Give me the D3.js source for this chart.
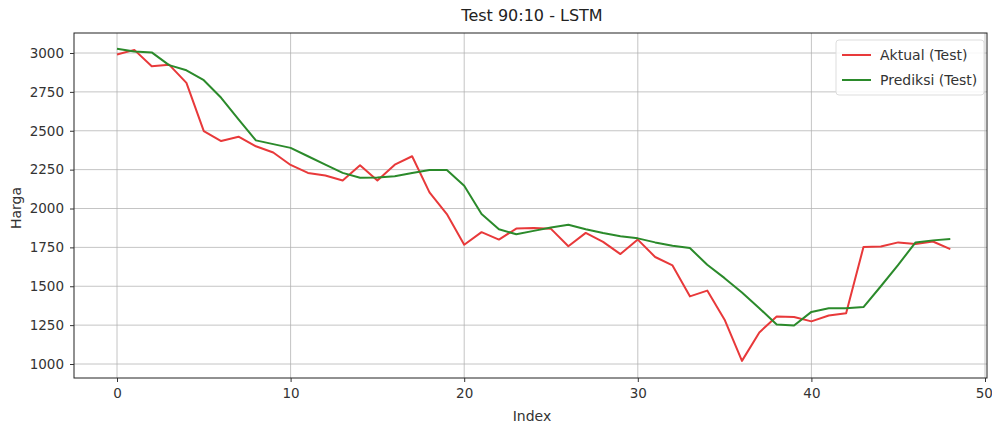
<!DOCTYPE html>
<html>
<head>
<meta charset="utf-8">
<script src="https://cdn.jsdelivr.net/npm/d3@7"></script>
<style>
  html, body { margin: 0; padding: 0; background: #fff; }
  svg { display: block; font-family: "DejaVu Sans", sans-serif; }
</style>
</head>
<body>
<svg id="chart" width="992" height="426"></svg>
<script>
const title = "Test 90:10 - LSTM";
const xLabel = "Index";
const yLabel = "Harga";
const seriesNames = ["Aktual (Test)", "Prediksi (Test)"];
const xTicks = [0, 10, 20, 30, 40, 50];
const yTicks = [1000, 1250, 1500, 1750, 2000, 2250, 2500, 2750, 3000];

const aktual = [2990, 3020, 2915, 2925, 2808, 2498, 2434, 2462, 2400, 2360,
  2280, 2229, 2212, 2180, 2278, 2180, 2282, 2336, 2104, 1964,
  1767, 1848, 1800, 1871, 1875, 1869, 1757, 1843, 1785, 1707,
  1800, 1688, 1634, 1435, 1472, 1285, 1020, 1203, 1306, 1302,
  1274, 1312, 1327, 1752, 1756, 1782, 1771, 1788, 1739];
const prediksi = [3028, 3010, 3004, 2922, 2889, 2825, 2712, 2573, 2438, 2414,
  2390, 2336, 2282, 2229, 2198, 2200, 2207, 2228, 2248, 2248,
  2146, 1964, 1867, 1834, 1856, 1878, 1895, 1867, 1842, 1822,
  1808, 1782, 1761, 1746, 1638, 1552, 1460, 1359, 1254, 1248,
  1335, 1359, 1359, 1366, 1500, 1638, 1782, 1795, 1804];

const colors = ["#e8393a", "#2b8a2b"];

const svg = d3.select("#chart");
const plot = { left: 74, right: 987, top: 33, bottom: 378 };

const x = d3.scaleLinear().domain([0, 50]).range([117, 985]);
const y = d3.scaleLinear().domain([1000, 3000]).range([364, 53]);

// grid
const g = svg.append("g");
g.selectAll(".gx").data(xTicks).enter().append("line")
  .attr("x1", d => x(d)).attr("x2", d => x(d))
  .attr("y1", plot.top).attr("y2", plot.bottom)
  .attr("stroke", "#b0b0b0").attr("stroke-opacity", 0.75).attr("stroke-width", 1);
g.selectAll(".gy").data(yTicks).enter().append("line")
  .attr("x1", plot.left).attr("x2", plot.right)
  .attr("y1", d => y(d)).attr("y2", d => y(d))
  .attr("stroke", "#b0b0b0").attr("stroke-opacity", 0.75).attr("stroke-width", 1);

// lines
const line = d3.line().x((d, i) => x(i)).y(d => y(d));
[aktual, prediksi].forEach((s, k) => {
  svg.append("path").datum(s)
    .attr("d", line)
    .attr("fill", "none")
    .attr("stroke", colors[k])
    .attr("stroke-width", 2)
    .attr("stroke-linejoin", "round");
});

// frame
svg.append("rect")
  .attr("x", plot.left).attr("y", plot.top)
  .attr("width", plot.right - plot.left).attr("height", plot.bottom - plot.top)
  .attr("fill", "none").attr("stroke", "#222").attr("stroke-width", 1);

// axes
const xAxis = svg.append("g").attr("transform", `translate(0,${plot.bottom})`)
  .call(d3.axisBottom(x).tickValues(xTicks).tickSize(4).tickPadding(6));
const yAxis = svg.append("g").attr("transform", `translate(${plot.left},0)`)
  .call(d3.axisLeft(y).tickValues(yTicks).tickSize(4).tickPadding(6).tickFormat(d3.format("d")));
[xAxis, yAxis].forEach(a => {
  a.select(".domain").remove();
  a.selectAll("text").attr("font-size", 13.5).attr("fill", "#333")
    .attr("font-family", "DejaVu Sans, sans-serif");
  a.selectAll("line").attr("stroke", "#333");
});
// keep the last x label inside the picture
xAxis.selectAll(".tick text").filter(d => d === 50).attr("text-anchor", "end").attr("dx", "0.55em");

// title & labels
svg.append("text").attr("x", 532).attr("y", 21).attr("text-anchor", "middle")
  .attr("font-size", 16).attr("fill", "#222").text(title);
svg.append("text").attr("x", 532).attr("y", 421).attr("text-anchor", "middle")
  .attr("font-size", 14).attr("fill", "#333").text(xLabel);
svg.append("text").attr("transform", "translate(21,208) rotate(-90)")
  .attr("text-anchor", "middle").attr("font-size", 14).attr("fill", "#333").text(yLabel);

// legend
const lg = svg.append("g");
lg.append("rect").attr("x", 836).attr("y", 40).attr("width", 148).attr("height", 55)
  .attr("rx", 3).attr("fill", "#fff").attr("fill-opacity", 0.85)
  .attr("stroke", "#ddd");
seriesNames.forEach((name, k) => {
  const yy = 55 + k * 25;
  lg.append("line").attr("x1", 842).attr("x2", 871).attr("y1", yy).attr("y2", yy)
    .attr("stroke", colors[k]).attr("stroke-width", 2);
  lg.append("text").attr("x", 880).attr("y", yy + 5).attr("font-size", 14)
    .attr("fill", "#333").text(name);
});
</script>
</body>
</html>
